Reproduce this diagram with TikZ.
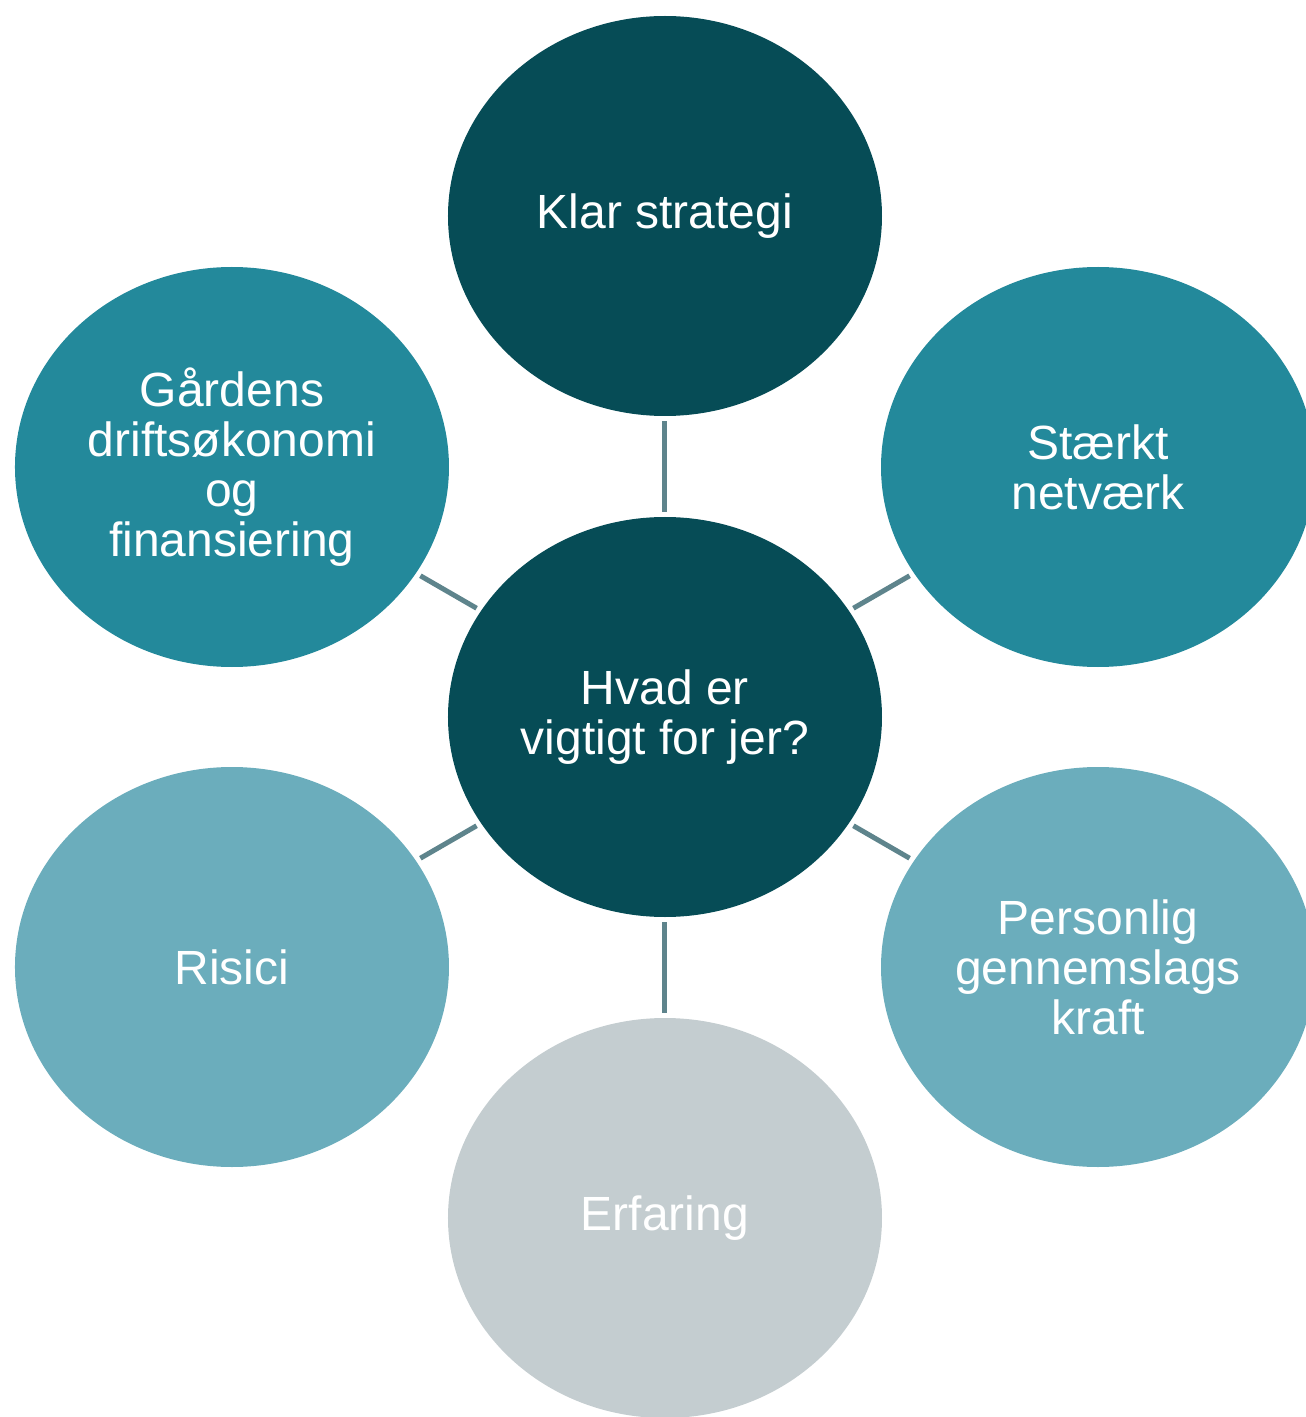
\documentclass[tikz,border=0pt]{standalone}
\usepackage{fontspec}
\setmainfont{Liberation Sans}
\usetikzlibrary{shapes.geometric}
\definecolor{deepteal}{HTML}{064C56}
\definecolor{midteal}{HTML}{23899B}
\definecolor{paleteal}{HTML}{6BADBC}
\definecolor{mistgray}{HTML}{C4CDD0}
\definecolor{linkgray}{HTML}{5E848C}

\begin{document}
\begin{tikzpicture}[
  bub/.style={ellipse, minimum width=434pt, minimum height=400pt, inner sep=0pt, align=center, text=white, font=\fontsize{48}{50}\selectfont},
  link/.style={linkgray, line width=5pt, shorten <=5pt, shorten >=5pt}
]
\useasboundingbox (-665pt,-700pt) rectangle (641pt,717pt);

\node[bub, fill=deepteal] (hub) at (0,0) {Hvad er\\vigtigt for jer?};
\node[bub, fill=deepteal] (strat) at (90:501pt) {Klar strategi};
\node[bub, fill=midteal] (netv) at (30:500pt) {Stærkt\\netværk};
\node[bub, fill=paleteal] (kraft) at (-30:500pt) {Personlig\\gennemslags\\kraft};
\node[bub, fill=mistgray] (erf) at (-90:501pt) {Erfaring};
\node[bub, fill=paleteal] (risk) at (210:500pt) {Risici};
\node[bub, fill=midteal] (oko) at (150:500pt) {Gårdens\\driftsøkonomi\\og\\finansiering};

\draw[link] (hub) -- (strat); \draw[link] (hub) -- (netv);
\draw[link] (hub) -- (kraft); \draw[link] (hub) -- (erf);
\draw[link] (hub) -- (risk); \draw[link] (hub) -- (oko);
\end{tikzpicture}
\end{document}
